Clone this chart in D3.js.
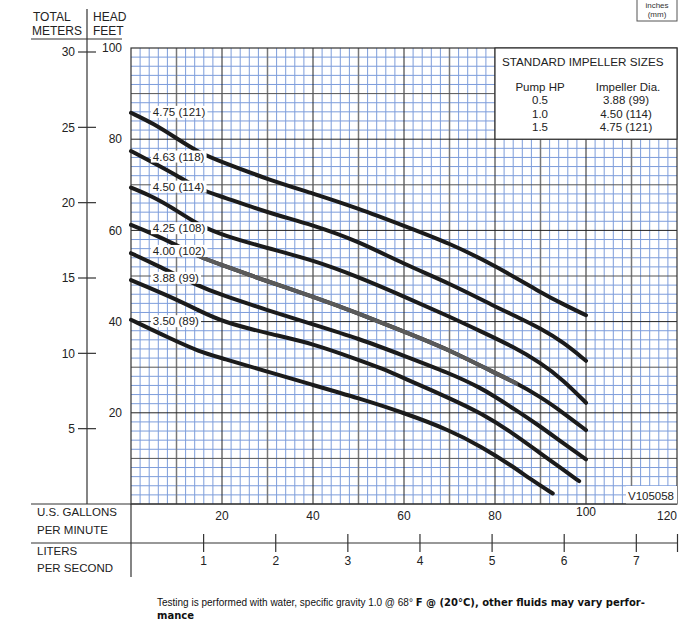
<!DOCTYPE html>
<html>
<head>
<meta charset="utf-8">
<script src="https://cdn.jsdelivr.net/npm/d3@7"></script>
<style>
    body { margin: 0; background: #fff; }
    svg { display: block; font-family: "Liberation Sans", Arial, sans-serif; }
</style>
</head>
<body>
<svg id="chart" width="691" height="626"></svg>
<script>
// --- DATA ---
// impeller diameter labels, inches (mm)
const impellers = ["4.75 (121)", "4.63 (118)", "4.50 (114)", "4.25 (108)", "4.00 (102)", "3.88 (99)", "3.50 (89)"];

const curve475 = [[0,85.8],[5,83.4],[10,80.2],[15,77],[20,75],[30,71.2],[40,68.1],[50,64.8],[60,61],[70,57.2],[80,52.3],[90,46.4],[95,43.8],[100,41.4]];
const curve463 = [[0,77.4],[5,74.8],[10,72.1],[15,69],[20,67.4],[30,63.9],[40,61.2],[50,57.6],[60,52.6],[70,48.4],[80,43.3],[85,41],[90,38.5],[95,35.5],[100,31.4]];
const curve450 = [[0,69.4],[5,67.3],[9,65],[15,61.1],[20,59],[30,56.1],[40,53.5],[50,49.8],[60,45.5],[70,41.1],[77,37.8],[84,34.5],[90,31],[95,27.2],[100,22.2]];
const curve425 = [[0,61.2],[4,59.6],[10,56.8],[15,54.2],[20,52.4],[30,48.8],[40,45.5],[50,41.8],[60,37.8],[70,33.8],[80,28.7],[84,26.9],[90,23.5],[95,20],[100,16.2]];
const curve400 = [[0,55],[5.6,52.4],[15,47.7],[20,45.8],[30,42.5],[40,39.4],[50,36.3],[60,32.5],[70,28.7],[77,25.4],[80,23.5],[84,21],[90,17],[95,13.3],[100,9.8]];
const curve388 = [[0,49.1],[8.6,45.5],[15,42.4],[20,40],[30,37.4],[40,35.2],[50,31.6],[55,29.8],[60,27.6],[70,23.2],[77,19.9],[84,15.5],[90,11.1],[95,7.5],[98.5,5]];
const curve350 = [[0,40.4],[8.6,36.3],[15,33.4],[20,32],[30,29],[40,26.1],[50,23.2],[60,20],[70,16.2],[77,12.6],[84,8.2],[88,5.3],[92.7,2.3]];
const curves = [curve475, curve463, curve450, curve425, curve400, curve388, curve350];

// head (feet) where each diameter label sits
const labelFeet = [86.0, 76.2, 69.6, 60.5, 55.5, 49.6, 40.1];

// axis ticks
const gpmTicks = [20, 40, 60, 80, 100, 120];
const feetTicks = [20, 40, 60, 80, 100];
const meterTicks = [5, 10, 15, 20, 25, 30];
const literTicks = [1, 2, 3, 4, 5, 6, 7];

// standard impeller table
const pumpHP = ["0.5", "1.0", "1.5"];
const stdImpeller = ["3.88 (99)", "4.50 (114)", "4.75 (121)"];

// --- LAYOUT ---
const plotL = 131, plotR = 677, plotT = 48, plotB = 504;
const GPM_PER_LPS = 15.850;

const svg = d3.select("#chart");

const x = d3.scaleLinear().domain([0, 120]).range([plotL, plotR]);
const y = d3.scaleLinear().domain([0, 100]).range([plotB, plotT]);
const yMeters = d3.scaleLinear().domain([0, 30]).range([plotB, 52]);
const xLiters = d3.scaleLinear().domain([0, 120 / GPM_PER_LPS]).range([plotL, plotR]);

// --- GRID ---
const grid = svg.append("g");
const minorX = d3.range(2, 120, 2).filter(v => v % 10 !== 0);
const minorY = d3.range(2, 100, 2).filter(v => v % 10 !== 0);

grid.selectAll(".mx").data(minorX).enter().append("line")
    .attr("x1", d => x(d)).attr("x2", d => x(d))
    .attr("y1", plotT).attr("y2", plotB)
    .attr("stroke", "#7d9ddb").attr("stroke-width", 1);

grid.selectAll(".my").data(minorY).enter().append("line")
    .attr("x1", plotL).attr("x2", plotR)
    .attr("y1", d => y(d)).attr("y2", d => y(d))
    .attr("stroke", "#7d9ddb").attr("stroke-width", 1);

grid.selectAll(".Mx").data(d3.range(10, 120, 10)).enter().append("line")
    .attr("x1", d => x(d)).attr("x2", d => x(d))
    .attr("y1", plotT).attr("y2", plotB)
    .attr("stroke", d => d % 20 === 0 ? "#222" : "#777")
    .attr("stroke-width", d => d % 20 === 0 ? 1 : 1.5);

grid.selectAll(".My").data(d3.range(10, 100, 10)).enter().append("line")
    .attr("x1", plotL).attr("x2", plotR)
    .attr("y1", d => y(d)).attr("y2", d => y(d))
    .attr("stroke", d => d % 20 === 0 ? "#222" : "#555")
    .attr("stroke-width", 1);

// plot frame
svg.append("rect")
    .attr("x", plotL).attr("y", plotT)
    .attr("width", plotR - plotL).attr("height", plotB - plotT)
    .attr("fill", "none").attr("stroke", "#333").attr("stroke-width", 1.2);

// --- CURVES ---
const line = d3.line()
    .x(d => x(d[0]))
    .y(d => y(d[1]))
    .curve(d3.curveBasis);

svg.append("g").selectAll("path").data(curves).enter().append("path")
    .attr("d", line)
    .attr("fill", "none")
    .attr("stroke", "#1b1b1b")
    .attr("stroke-width", 4)
    .attr("stroke-linecap", "round");

// the 4.25 curve prints grey along its middle stretch
svg.append("clipPath").attr("id", "greyPart")
    .append("rect")
    .attr("x", x(12)).attr("y", plotT)
    .attr("width", x(85) - x(12)).attr("height", plotB - plotT);

svg.append("path")
    .datum(curve425)
    .attr("d", line)
    .attr("clip-path", "url(#greyPart)")
    .attr("fill", "none")
    .attr("stroke", "#5a5a5a")
    .attr("stroke-width", 4);

// diameter labels on white patches
const labels = svg.append("g");
impellers.forEach((name, i) => {
    const g = labels.append("g");
    const t = g.append("text")
        .attr("x", x(4.8))
        .attr("y", y(labelFeet[i]))
        .attr("dy", "0.35em")
        .attr("font-size", 11.5)
        .attr("fill", "#222")
        .text(name);
    const b = t.node().getBBox();
    g.insert("rect", "text")
        .attr("x", b.x - 2).attr("y", b.y)
        .attr("width", b.width + 4).attr("height", b.height)
        .attr("fill", "#fff");
});

// --- STANDARD IMPELLER TABLE ---
const legend = svg.append("g");
legend.append("rect")
    .attr("x", x(80)).attr("y", y(100))
    .attr("width", x(120) - x(80)).attr("height", y(80) - y(100))
    .attr("fill", "#fff").attr("stroke", "#333").attr("stroke-width", 1.2);

legend.append("text")
    .attr("x", 502).attr("y", 66)
    .attr("font-size", 11.7).attr("fill", "#222")
    .text("STANDARD IMPELLER SIZES");

legend.append("text")
    .attr("x", 540).attr("y", 91)
    .attr("text-anchor", "middle")
    .attr("font-size", 11.5).attr("fill", "#222")
    .text("Pump HP");

legend.append("text")
    .attr("x", 628).attr("y", 91)
    .attr("text-anchor", "middle")
    .attr("font-size", 11.5).attr("fill", "#222")
    .text("Impeller Dia.");

pumpHP.forEach((hp, i) => {
    legend.append("text")
        .attr("x", 540).attr("y", 104 + i * 13.5)
        .attr("text-anchor", "middle")
        .attr("font-size", 11.5).attr("fill", "#222")
        .text(hp);
    legend.append("text")
        .attr("x", 626).attr("y", 104 + i * 13.5)
        .attr("text-anchor", "middle")
        .attr("font-size", 11.5).attr("fill", "#222")
        .text(stdImpeller[i]);
});

// drawing number
svg.append("rect")
    .attr("x", 626).attr("y", 486)
    .attr("width", plotR - 626).attr("height", plotB - 486)
    .attr("fill", "#fff");
svg.append("text")
    .attr("x", 651).attr("y", 500)
    .attr("text-anchor", "middle")
    .attr("font-size", 11.5).attr("fill", "#222")
    .text("V105058");

// units box, top right
svg.append("rect")
    .attr("x", 637).attr("y", -1)
    .attr("width", 40).attr("height", 22)
    .attr("fill", "#fff").attr("stroke", "#555").attr("stroke-width", 1);
svg.append("text")
    .attr("x", 657).attr("y", 8)
    .attr("text-anchor", "middle").attr("font-size", 8).attr("fill", "#333")
    .text("inches");
svg.append("text")
    .attr("x", 657).attr("y", 17)
    .attr("text-anchor", "middle").attr("font-size", 8).attr("fill", "#333")
    .text("(mm)");

// --- LEFT AXES ---
const axisCol = "#333";
svg.append("text").attr("x", 33).attr("y", 21).attr("font-size", 12).attr("fill", "#222").text("TOTAL");
svg.append("text").attr("x", 32).attr("y", 35).attr("font-size", 12).attr("fill", "#222").text("METERS");
svg.append("text").attr("x", 93).attr("y", 21).attr("font-size", 12).attr("fill", "#222").text("HEAD");
svg.append("text").attr("x", 93).attr("y", 35).attr("font-size", 12).attr("fill", "#222").text("FEET");

svg.append("line")
    .attr("x1", 31).attr("x2", 122).attr("y1", 39).attr("y2", 39)
    .attr("stroke", axisCol).attr("stroke-width", 1.2);
svg.append("line")
    .attr("x1", 87).attr("x2", 87).attr("y1", 9).attr("y2", plotB)
    .attr("stroke", axisCol).attr("stroke-width", 1.2);

const meters = svg.append("g");
meters.selectAll("line").data(meterTicks).enter().append("line")
    .attr("x1", 78).attr("x2", 96)
    .attr("y1", d => yMeters(d)).attr("y2", d => yMeters(d))
    .attr("stroke", axisCol).attr("stroke-width", 1.2);
meters.selectAll("text").data(meterTicks).enter().append("text")
    .attr("x", 75).attr("y", d => yMeters(d))
    .attr("dy", "0.35em")
    .attr("text-anchor", "end")
    .attr("font-size", 12).attr("fill", "#222")
    .text(d => d);

svg.append("g").selectAll("text").data(feetTicks).enter().append("text")
    .attr("x", 122).attr("y", d => y(d))
    .attr("dy", "0.35em")
    .attr("text-anchor", "end")
    .attr("font-size", 12).attr("fill", "#222")
    .text(d => d);

// --- BOTTOM AXES ---
svg.append("line")
    .attr("x1", 31).attr("x2", plotR).attr("y1", plotB).attr("y2", plotB)
    .attr("stroke", axisCol).attr("stroke-width", 1.2);
svg.append("line")
    .attr("x1", plotL).attr("x2", plotL).attr("y1", plotB).attr("y2", 577)
    .attr("stroke", axisCol).attr("stroke-width", 1.2);

svg.append("text").attr("x", 37).attr("y", 516).attr("font-size", 11.5).attr("fill", "#222").text("U.S. GALLONS");
svg.append("text").attr("x", 37).attr("y", 534).attr("font-size", 11.5).attr("fill", "#222").text("PER MINUTE");

svg.append("g").selectAll("text").data(gpmTicks).enter().append("text")
    .attr("x", d => d === 120 ? plotR : x(d))
    .attr("y", d => d === 100 ? 516 : 520)
    .attr("text-anchor", d => d === 120 ? "end" : "middle")
    .attr("font-size", 12).attr("fill", "#222")
    .text(d => d);

// liters per second
svg.append("line")
    .attr("x1", 31).attr("x2", plotR).attr("y1", 543).attr("y2", 543)
    .attr("stroke", axisCol).attr("stroke-width", 1.2);

const literAxis = d3.axisBottom(xLiters)
    .tickValues(literTicks.concat([120 / GPM_PER_LPS]))
    .tickSize(0)
    .tickFormat(d => literTicks.includes(d) ? d : "");
const la = svg.append("g").attr("transform", "translate(0,543)").call(literAxis);
la.select(".domain").remove();
la.selectAll(".tick line")
    .attr("y1", -9).attr("y2", 9)
    .attr("stroke", axisCol).attr("stroke-width", 1.2);
la.selectAll(".tick text")
    .attr("y", 13)
    .attr("font-family", "Liberation Sans, Arial, sans-serif")
    .attr("font-size", 12).attr("fill", "#222");

svg.append("text").attr("x", 37).attr("y", 555).attr("font-size", 11.5).attr("fill", "#222").text("LITERS");
svg.append("text").attr("x", 37).attr("y", 572).attr("font-size", 11.5).attr("fill", "#222").text("PER SECOND");

// --- FOOTNOTE ---
const note = svg.append("text")
    .attr("x", 157).attr("y", 606)
    .attr("font-size", 10).attr("fill", "#111");
note.append("tspan").text("Testing is performed with water, specific gravity 1.0 @ 68° ");
note.append("tspan")
    .attr("font-family", "DejaVu Sans, Verdana, sans-serif")
    .attr("font-weight", "bold")
    .text("F @ (20°C), other fluids may vary perfor-");
svg.append("text")
    .attr("x", 157).attr("y", 619)
    .attr("font-size", 10).attr("fill", "#111")
    .attr("font-family", "DejaVu Sans, Verdana, sans-serif")
    .attr("font-weight", "bold")
    .text("mance");
</script>
</body>
</html>
